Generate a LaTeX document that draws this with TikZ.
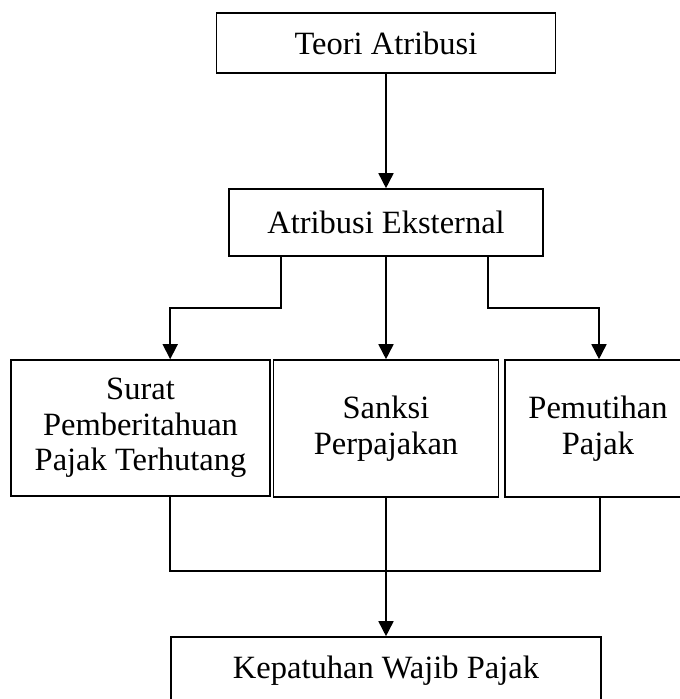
\documentclass[tikz,border=0pt]{standalone}
\usepackage{fontspec}
\setmainfont{Liberation Serif}
\usetikzlibrary{arrows.meta}
\tikzset{
  box/.style={draw, line width=1.6pt, inner sep=0pt, align=center,
    font=\fontsize{32.5}{35.5}\selectfont},
  link/.style={line width=1.6pt},
  arr/.style={link, -{Triangle[width=15pt,length=15pt]}}
}
\begin{document}
\begin{tikzpicture}[x=1pt,y=-1pt]
\useasboundingbox (0,0) rectangle (680,699);
\clip (0,0) rectangle (680,699);
\node[box, minimum width=339pt, minimum height=60pt] (teori) at (386,43) {Teori Atribusi};
\node[box, minimum width=314pt, minimum height=67pt] (atrib) at (386,222.5) {Atribusi Eksternal};
\node[box, minimum width=259pt, minimum height=136pt] (surat) at (140.5,428) {Surat\\Pemberitahuan\\Pajak Terhutang};
\node[box, minimum width=225pt, minimum height=137pt] (sanksi) at (386,428.5) {Sanksi\\Perpajakan};
\node[box, minimum width=186pt, minimum height=137pt] (pemut) at (598,428.5) {Pemutihan\\Pajak};
\node[box, minimum width=430pt, minimum height=67pt] (kep) at (386,670.5) {Kepatuhan Wajib Pajak};

\draw[arr] (teori.south) -- (teori.south |- atrib.north);
\draw[arr] ([xshift=53pt]atrib.south west) -- ++(0pt,-51pt) -| ([xshift=160pt]surat.north west);
\draw[arr] (atrib.south) -- (atrib.south |- sanksi.north);
\draw[arr] ([xshift=-56pt]atrib.south east) -- ++(0pt,-51pt) -| ([xshift=1pt]pemut.north);
\draw[link] ([xshift=160pt]surat.south west) |- ([xshift=96pt,yshift=-73pt]pemut.south west) -- ([xshift=96pt]pemut.south west);
\draw[arr] (sanksi.south) -- (sanksi.south |- kep.north);
\end{tikzpicture}
\end{document}
